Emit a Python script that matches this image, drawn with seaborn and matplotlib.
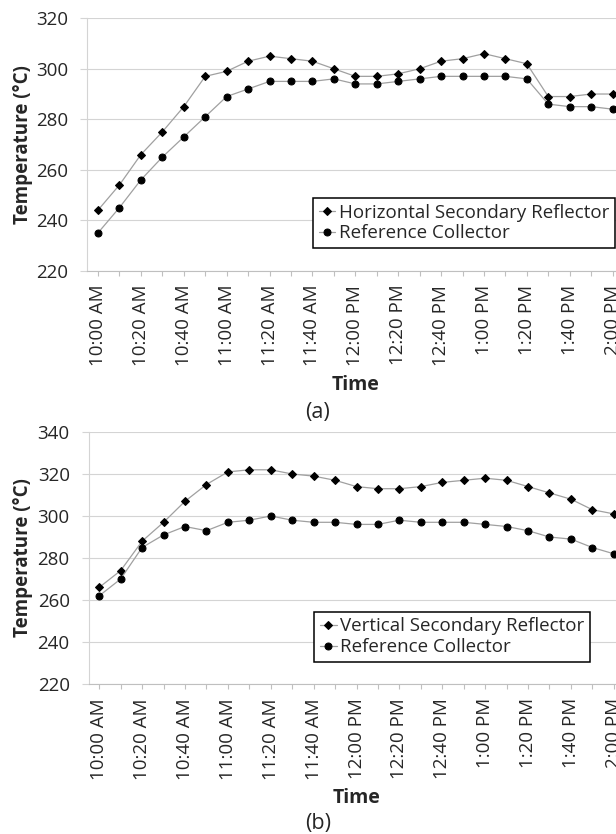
import numpy as np
import pandas as pd
import matplotlib
matplotlib.use("Agg")
import matplotlib.pyplot as plt
import seaborn as sns

# time stamps (every 10 min), labels shown every 20 min
times = ["10:00 AM", "10:10 AM", "10:20 AM", "10:30 AM", "10:40 AM", "10:50 AM",
         "11:00 AM", "11:10 AM", "11:20 AM", "11:30 AM", "11:40 AM", "11:50 AM",
         "12:00 PM", "12:10 PM", "12:20 PM", "12:30 PM", "12:40 PM", "12:50 PM",
         "1:00 PM", "1:10 PM", "1:20 PM", "1:30 PM", "1:40 PM", "1:50 PM", "2:00 PM"]

# (a) horizontal secondary reflector vs reference
horizontal = [244, 254, 266, 275, 285, 297, 299, 303, 305, 304, 303, 300, 297,
              297, 298, 300, 303, 304, 306, 304, 302, 289, 289, 290, 290]
reference_a = [235, 245, 256, 265, 273, 281, 289, 292, 295, 295, 295, 296, 294,
               294, 295, 296, 297, 297, 297, 297, 296, 286, 285, 285, 284]

# (b) vertical secondary reflector vs reference
vertical = [266, 274, 288, 297, 307, 315, 321, 322, 322, 320, 319, 317, 314,
            313, 313, 314, 316, 317, 318, 317, 314, 311, 308, 303, 301]
reference_b = [262, 270, 285, 291, 295, 293, 297, 298, 300, 298, 297, 297, 296,
               296, 298, 297, 297, 297, 296, 295, 293, 290, 289, 285, 282]

sns.set_style("white")
plt.rcParams['font.family'] = ['Open Sans', 'DejaVu Sans']

FS = 13.5
W, H = 616, 834
fig = plt.figure(figsize=(W / 100, H / 100), dpi=100)

line_gray = '#a0a0a0'
grid_gray = '#d4d4d4'


def draw_panel(ax, s1, s1_name, s2, ylim, legend_y, label_x):
    df = pd.DataFrame({'pos': np.arange(len(times)), 's1': s1, 's2': s2})
    sns.lineplot(data=df, x='pos', y='s1', ax=ax, color=line_gray, lw=0.9,
                 marker='D', markersize=4.3, markerfacecolor='black',
                 markeredgecolor='black', label=s1_name)
    sns.lineplot(data=df, x='pos', y='s2', ax=ax, color=line_gray, lw=0.9,
                 marker='o', markersize=5, markerfacecolor='black',
                 markeredgecolor='black', label='Reference Collector')

    ax.set_xlim(-0.5, len(times) - 0.5)
    ax.set_ylim(*ylim)
    ax.set_yticks(np.arange(ylim[0], ylim[1] + 1, 20))
    ax.set_xticks(np.arange(len(times)))
    ax.set_xticklabels([t if i % 2 == 0 else '' for i, t in enumerate(times)],
                       rotation=90)
    ax.yaxis.grid(True, color=grid_gray, lw=0.8)
    ax.xaxis.grid(False)
    for side in ['top', 'right']:
        ax.spines[side].set_visible(False)
    ax.spines['left'].set_color(grid_gray)
    ax.spines['bottom'].set_color('#bfbfbf')
    ax.tick_params(axis='y', length=5, color=grid_gray, pad=8.5,
                   labelsize=FS, left=True)
    ax.tick_params(axis='x', length=3.6, color='#bfbfbf', pad=6.5,
                   labelsize=FS, bottom=True)

    ax.set_ylabel('Temperature (°C)', fontsize=FS, fontweight='bold', va='center')
    ax.yaxis.set_label_coords(label_x, 0.5)
    ax.set_xlabel('Time', fontsize=FS + 0.5, fontweight='bold', va='center')
    ax.xaxis.set_label_coords(0.5, -0.453)

    leg = ax.legend(loc='lower left', bbox_to_anchor=(0.421, legend_y),
                    frameon=True, fancybox=False, edgecolor='black',
                    framealpha=1, fontsize=FS, borderpad=0.3,
                    handlelength=0.9, handletextpad=0.2, labelspacing=0.15,
                    borderaxespad=0)
    leg.get_frame().set_linewidth(1.1)


# panel (a)
ax1 = fig.add_axes([87.3 / W, 1 - 270.7 / H, 536 / W, 252.4 / H])
draw_panel(ax1, horizontal, 'Horizontal Secondary Reflector', reference_a,
           (220, 320), 0.09, -0.12)
fig.text(318 / W, 1 - 412 / H, '(a)', ha='center', va='center', fontsize=15.5)

# panel (b)
ax2 = fig.add_axes([88.5 / W, 1 - 684 / H, 536 / W, 252 / H])
draw_panel(ax2, vertical, 'Vertical Secondary Reflector', reference_b,
           (220, 340), 0.088, -0.122)
fig.text(318 / W, 1 - 823 / H, '(b)', ha='center', va='center', fontsize=15.5)

plt.savefig('out.png', dpi=100)
plt.close()
